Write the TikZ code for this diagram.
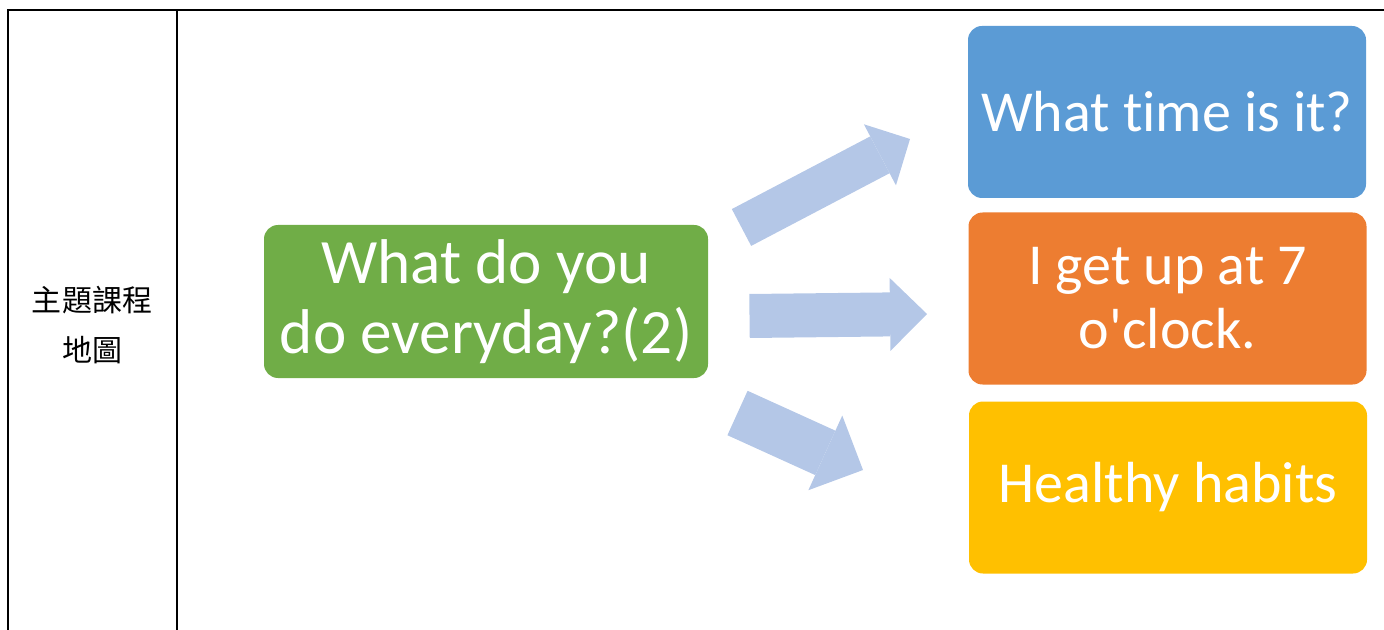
\documentclass[tikz,border=0pt]{standalone}
\usepackage{fontspec}
\newfontfamily\calibri{Carlito}[RawFeature={-liga;-clig;-calt;-dlig}]
\newfontfamily\cjk{Noto Sans CJK TC}
\usepackage{tikz}
\usetikzlibrary{calc}
\usetikzlibrary{arrows.meta}

\definecolor{boxblue}{HTML}{5B9BD5}
\definecolor{boxorange}{HTML}{ED7D31}
\definecolor{boxyellow}{HTML}{FFC000}
\definecolor{boxgreen}{HTML}{70AD47}
\definecolor{arrowblue}{HTML}{B4C7E7}

\tikzset{
  topic/.style={rectangle, rounded corners=7pt, inner sep=0pt, align=center,
    text=white, minimum width=199pt, minimum height=86pt,
    font=\calibri\fontsize{29}{32}\selectfont},
  bigarrow/.style={draw=arrowblue, line cap=butt},
}

\begin{document}
\begin{tikzpicture}[x=0.5pt, y=-0.5pt]
\useasboundingbox (0,0) rectangle (1384,630);

\coordinate (TL) at (8,10); \coordinate (TR) at (1384,10);
\coordinate (BL) at (8,630);
\coordinate (MT) at (177,10); \coordinate (MB) at (177,630);
\draw[line width=0.9pt] (BL) -- (TL) -- (TR);
\draw[line width=0.9pt] (MT) -- (MB);

\node (map) at (92,325) [align=center, font=\cjk\fontsize{15}{25}\selectfont] {主題課程\\地圖};

\node (main) at (486,301.5) [topic, fill=boxgreen, minimum width=222pt, minimum height=76.5pt,
  font=\calibri\fontsize{31.6}{35}\selectfont] {What do you\\do everyday?(2)};
\node (time) at (1167,112) [topic, fill=boxblue] {What time is it?};
\node (getup) at (1167.5,298.5) [topic, fill=boxorange] {I get up at 7\\o'clock.};
\node (habit) at (1168,487.5) [topic, fill=boxyellow] {Healthy habits};

\coordinate (A1) at (741.5,227.5); \coordinate (B1) at (910,139);
\coordinate (A2) at (749.5,316);   \coordinate (B2) at (927,314);
\coordinate (A3) at (737.5,413);   \coordinate (B3) at (863,470);

\draw[bigarrow, line width=20.8pt,
  -{Triangle[width=34.5pt, length=17pt, line width=0pt, fill=arrowblue]}] (A1) -- (B1);
\draw[bigarrow, line width=22pt,
  -{Triangle[width=36.5pt, length=18.5pt, line width=0pt, fill=arrowblue]}] (A2) -- (B2);
\draw[bigarrow, line width=24.4pt,
  -{Triangle[width=41pt, length=20.7pt, line width=0pt, fill=arrowblue]}] (A3) -- (B3);

\end{tikzpicture}
\end{document}
